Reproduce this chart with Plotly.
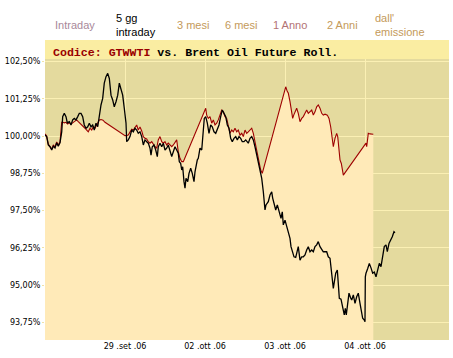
import plotly.graph_objects as go

# ---------------- data ----------------
# x = position in trading days from start of 28 set (tick positions 1..4)
tick_pos = [1, 2, 3, 4]
tick_labels = ["29 .set .06", "02 .ott .06", "03 .ott .06", "04 .ott .06"]
y_ticks = [93.75, 95.0, 96.25, 97.5, 98.75, 100.0, 101.25, 102.5]
y_tick_labels = ["93,75%", "95,00%", "96,25%", "97,50%", "98,75%", "100,00%", "101,25%", "102,50%"]

gtwwti_x = [0.000, 0.021, 0.041, 0.0625, 0.084, 0.104, 0.125, 0.146, 0.166, 0.1875,
            0.209, 0.221, 0.241, 0.2625, 0.279, 0.304, 0.325, 0.346, 0.366, 0.3875,
            0.409, 0.429, 0.45, 0.471, 0.491, 0.5125, 0.534, 0.554, 0.575, 0.596,
            0.616, 0.6375, 0.659, 0.679, 0.7, 0.721, 0.741, 0.7625, 0.784, 0.804,
            0.825, 0.846, 0.866, 0.8875, 0.909, 0.929, 0.95, 0.971, 0.991, 1.0125,
            1.021, 1.041, 1.0625, 1.084, 1.104, 1.125, 1.146, 1.166, 1.1875, 1.209,
            1.229, 1.25, 1.271, 1.291, 1.3125, 1.325, 1.341, 1.3625, 1.384, 1.404,
            1.416, 1.4375, 1.459, 1.479, 1.5, 1.521, 1.541, 1.5625, 1.584, 1.604,
            1.625, 1.646, 1.666, 1.679, 1.696, 1.709, 1.721, 1.7375, 1.75, 1.7625,
            1.784, 1.8, 1.821, 1.841, 1.8625, 1.875, 1.8875, 1.904, 1.916, 1.9375,
            1.959, 1.971, 1.979, 1.991, 2.009, 2.029, 2.05, 2.071, 2.091, 2.1125,
            2.134, 2.154, 2.175, 2.196, 2.216, 2.2375, 2.259, 2.279, 2.3, 2.321,
            2.341, 2.3625, 2.384, 2.404, 2.425, 2.446, 2.466, 2.4875, 2.509, 2.541,
            2.5625, 2.584, 2.604, 2.625, 2.646, 2.666, 2.6875, 2.709, 2.729, 2.75,
            2.7625, 2.791, 2.8125, 2.834, 2.846, 2.8625, 2.884, 2.904, 2.929, 2.95,
            2.966, 2.979, 3.0, 3.021, 3.041, 3.0625, 3.075, 3.096, 3.1125, 3.134,
            3.154, 3.166, 3.1875, 3.209, 3.229, 3.25, 3.271, 3.291, 3.3125, 3.334,
            3.354, 3.375, 3.396, 3.416, 3.4375, 3.459, 3.479, 3.521, 3.541, 3.5625,
            3.575, 3.591, 3.604, 3.634, 3.654, 3.666, 3.679, 3.7, 3.721, 3.741,
            3.754, 3.766, 3.784, 3.8, 3.821, 3.834, 3.854, 3.875, 3.896, 3.916,
            3.9375, 3.959, 3.971, 3.991, 4.0, 4.004, 4.0125, 4.034, 4.054, 4.075,
            4.096, 4.116, 4.1375, 4.159, 4.179, 4.2, 4.221, 4.241, 4.2625, 4.279,
            4.3, 4.321, 4.341, 4.3625, 4.375]
gtwwti_y = [100.03, 99.98, 99.70, 99.64, 99.53, 99.66, 99.60, 99.77, 99.66, 99.77,
            100.14, 100.65, 100.76, 100.65, 100.44, 100.48, 100.37, 100.54, 100.59, 100.54,
            100.65, 100.76, 100.76, 100.65, 100.37, 100.26, 100.31, 100.43, 100.31, 100.37,
            100.20, 100.43, 100.31, 100.70, 101.04, 101.26, 101.77, 101.99, 102.10, 101.93,
            101.37, 101.21, 100.98, 101.15, 101.37, 101.77, 101.60, 101.37, 100.93, 100.43,
            99.81, 99.87, 99.98, 100.20, 100.14, 100.26, 100.20, 100.09, 100.14, 99.98,
            99.70, 99.87, 99.81, 99.76, 99.59, 99.36, 99.64, 99.70, 99.53, 99.31,
            99.64, 99.76, 99.64, 99.76, 99.53, 99.59, 99.70, 99.53, 99.31, 99.47,
            99.64, 99.53, 99.42, 99.14, 99.08, 98.86, 98.97, 98.47, 98.25, 98.58,
            98.47, 98.75, 98.92, 98.75, 98.47, 98.80, 99.03, 99.20, 99.25, 99.59,
            99.53, 99.98, 100.20, 100.59, 100.65, 100.43, 100.09, 100.37, 100.31, 100.14,
            100.09, 100.26, 100.37, 100.65, 100.87, 100.76, 100.65, 100.37, 100.26, 99.92,
            99.81, 99.92, 99.98, 99.87, 99.98, 99.92, 99.81, 99.81, 99.87, 99.76,
            99.92, 99.98, 99.87, 99.64, 99.36, 99.14, 98.80, 98.58, 98.13, 97.52,
            97.69, 97.80, 98.02, 98.13, 97.92, 97.74, 97.52, 97.69, 97.41, 97.24,
            97.46, 97.02, 97.18, 96.96, 96.79, 96.57, 96.29, 96.12, 95.95, 95.93,
            96.12, 96.29, 95.84, 95.95, 95.95, 96.01, 96.18, 96.29, 96.12, 96.18,
            96.12, 96.29, 96.35, 96.46, 96.29, 96.18, 96.12, 96.12, 95.95, 95.90,
            95.51, 95.17, 94.89, 95.40, 95.51, 95.06, 94.56, 94.53, 94.28, 94.00,
            94.22, 94.00, 94.39, 94.73, 94.57, 94.50, 94.67, 94.39, 94.61, 94.73,
            94.39, 94.11, 93.89, 93.83, 93.77, 95.28, 95.40, 95.56, 95.73, 95.58,
            95.40, 95.44, 95.28, 95.51, 95.73, 95.62, 95.90, 96.29, 96.35, 96.12,
            96.40, 96.51, 96.62, 96.79, 96.76]

brent_x = [0.000, 0.021, 0.041, 0.0625, 0.084, 0.104, 0.125, 0.146, 0.166, 0.1875,
           0.209, 0.221, 0.241, 0.2625, 0.284, 0.304, 0.325, 0.346, 0.366, 0.396,
           0.416, 0.4375, 0.459, 0.479, 0.5, 0.521, 0.541, 0.5625, 0.584, 0.604,
           0.625, 0.646, 0.666, 0.679, 0.7, 0.725, 0.75, 1.0, 1.021, 1.041,
           1.0625, 1.084, 1.104, 1.125, 1.146, 1.166, 1.1875, 1.209, 1.229, 1.25,
           1.271, 1.291, 1.3125, 1.334, 1.354, 1.375, 1.396, 1.416, 1.4375, 1.459,
           1.479, 1.5, 1.521, 1.541, 1.5625, 1.584, 1.604, 1.625, 1.646, 1.666,
           1.6875, 1.709, 1.729, 2.009, 2.021, 2.041, 2.0625, 2.084, 2.104, 2.125,
           2.146, 2.166, 2.1875, 2.209, 2.229, 2.25, 2.271, 2.291, 2.3125, 2.334,
           2.354, 2.375, 2.396, 2.416, 2.4375, 2.459, 2.479, 2.5, 2.521, 2.541,
           2.5625, 2.584, 2.604, 2.625, 2.6375, 2.654, 2.666, 2.679, 2.696, 2.716,
           3.009, 3.029, 3.041, 3.0625, 3.084, 3.096, 3.109, 3.125, 3.146, 3.166,
           3.1875, 3.209, 3.229, 3.25, 3.271, 3.291, 3.3125, 3.334, 3.354, 3.375,
           3.396, 3.416, 3.4375, 3.459, 3.479, 3.5, 3.529, 3.55, 3.571, 3.5875,
           3.604, 3.625, 3.646, 3.659, 3.671, 3.6875, 3.704, 3.716, 3.729, 4.0125,
           4.021, 4.034, 4.041, 4.0625, 4.104]
brent_y = [100.07, 100.00, 99.73, 99.66, 99.56, 99.70, 99.63, 99.80, 99.70, 99.80,
           100.46, 100.47, 100.44, 100.46, 100.40, 100.45, 100.40, 100.44, 100.48, 100.54,
           100.48, 100.43, 100.37, 100.31, 100.26, 100.20, 100.14, 100.26, 100.20, 100.31,
           100.26, 100.37, 100.47, 100.54, 100.55, 100.53, 100.46, 100.01, 100.02, 100.03,
           100.13, 100.23, 100.20, 100.31, 100.37, 100.20, 100.30, 100.17, 99.98, 99.92,
           99.90, 99.81, 99.76, 99.81, 99.70, 99.64, 99.59, 99.87, 99.98, 99.81,
           99.76, 99.81, 99.70, 99.76, 99.70, 99.64, 99.70, 99.81, 99.87, 99.47,
           99.25, 99.14, 99.14, 100.93, 100.70, 100.59, 100.65, 100.43, 100.54, 100.37,
           100.43, 100.54, 100.70, 100.87, 100.81, 100.65, 100.59, 100.37, 100.09, 100.20,
           100.14, 100.26, 100.14, 100.20, 100.03, 100.09, 99.98, 100.20, 100.09, 100.14,
           100.20, 100.26, 100.09, 99.87, 99.64, 99.42, 99.25, 99.03, 98.86, 98.75,
           101.65, 101.49, 101.44, 101.15, 100.81, 100.59, 100.70, 100.81, 100.93, 100.76,
           100.48, 100.59, 100.65, 100.76, 100.87, 100.76, 100.81, 100.87, 100.70, 100.81,
           100.98, 101.04, 100.93, 100.76, 100.70, 100.73, 100.70, 100.59, 100.31, 99.98,
           99.64, 99.92, 100.09, 99.98, 99.53, 99.20, 99.08, 98.92, 98.69, 99.76,
           99.64, 99.92, 100.09, 100.07, 100.06]

# ---------------- style ----------------
OLIVE = "#E4DA9E"
CREAM = "#FFEAB8"
BAND = "#FAEDA2"
GRID = "#FBF0B4"
RED = "#9E0000"

L, R, T, B = 45, 4, 59, 18
W, H = 453, 358
PW, PH = W - L - R, H - T - B


def px_x(px):
    return (px - L) / PW


def px_y(py):
    return (H - B - py) / PH


fig = go.Figure()
fig.add_trace(go.Scatter(x=brent_x, y=brent_y, mode="lines",
                         line=dict(color=RED, width=1.1), fill="tozeroy",
                         fillcolor=CREAM, hoverinfo="skip", showlegend=False))
fig.add_trace(go.Scatter(x=gtwwti_x, y=gtwwti_y, mode="lines",
                         line=dict(color="#000000", width=1.3),
                         hoverinfo="skip", showlegend=False))

# title band
fig.add_shape(type="rect", xref="paper", yref="paper", x0=0, x1=1,
              y0=px_y(59), y1=px_y(40), fillcolor=BAND, line=dict(width=0), layer="below")

annotations = [
    dict(x=px_x(51), y=px_y(52.5), xanchor="left", yanchor="middle",
         text="<b><span style='color:#990000'>Codice: GTWWTI</span> vs. Brent Oil Future Roll.</b>",
         font=dict(family="Liberation Mono, DejaVu Sans Mono, monospace", size=11.6, color="#000000")),
]
tabs = [
    ("Intraday", 53, 25, "#A8889A"),
    ("5 gg<br>intraday", 114, 25, "#000000"),
    ("3 mesi", 175, 25, "#C49A5A"),
    ("6 mesi", 223, 25, "#C49A5A"),
    ("1 Anno", 271, 25, "#B27274"),
    ("2 Anni", 325, 25, "#C49A5A"),
    ("dall'<br>emissione", 373, 25, "#C49A5A"),
]
for txt, x, y, c in tabs:
    annotations.append(dict(x=px_x(x), y=px_y(y), xanchor="left", yanchor="middle",
                            align="left", text=txt,
                            font=dict(family="Liberation Sans, Arial, sans-serif", size=11, color=c)))
for a in annotations:
    a.update(xref="paper", yref="paper", showarrow=False)

fig.update_layout(
    width=W, height=H,
    margin=dict(l=L, r=R, t=T, b=B, pad=0),
    paper_bgcolor="#FFFFFF",
    plot_bgcolor=OLIVE,
    annotations=annotations,
    xaxis=dict(range=[0, PW / 80], tickvals=tick_pos, ticktext=tick_labels,
               showgrid=True, gridcolor=GRID, gridwidth=1, zeroline=False,
               showline=False, ticks="", fixedrange=True,
               tickfont=dict(family="DejaVu Sans, sans-serif", size=8, color="#000000")),
    yaxis=dict(range=[100 - (H - B - 136) / 29.83, 100 + (136 - T) / 29.83],
               tickvals=y_ticks, ticktext=y_tick_labels,
               showgrid=True, gridcolor=GRID, gridwidth=1, zeroline=False,
               showline=False, ticks="outside", ticklen=2, tickcolor="#F0E2A8",
               fixedrange=True,
               tickfont=dict(family="DejaVu Sans, sans-serif", size=8, color="#000000")),
)

fig.write_html("out.html", config={"displayModeBar": False},
               post_script="document.body.style.margin='0';document.body.style.overflow='hidden';")
